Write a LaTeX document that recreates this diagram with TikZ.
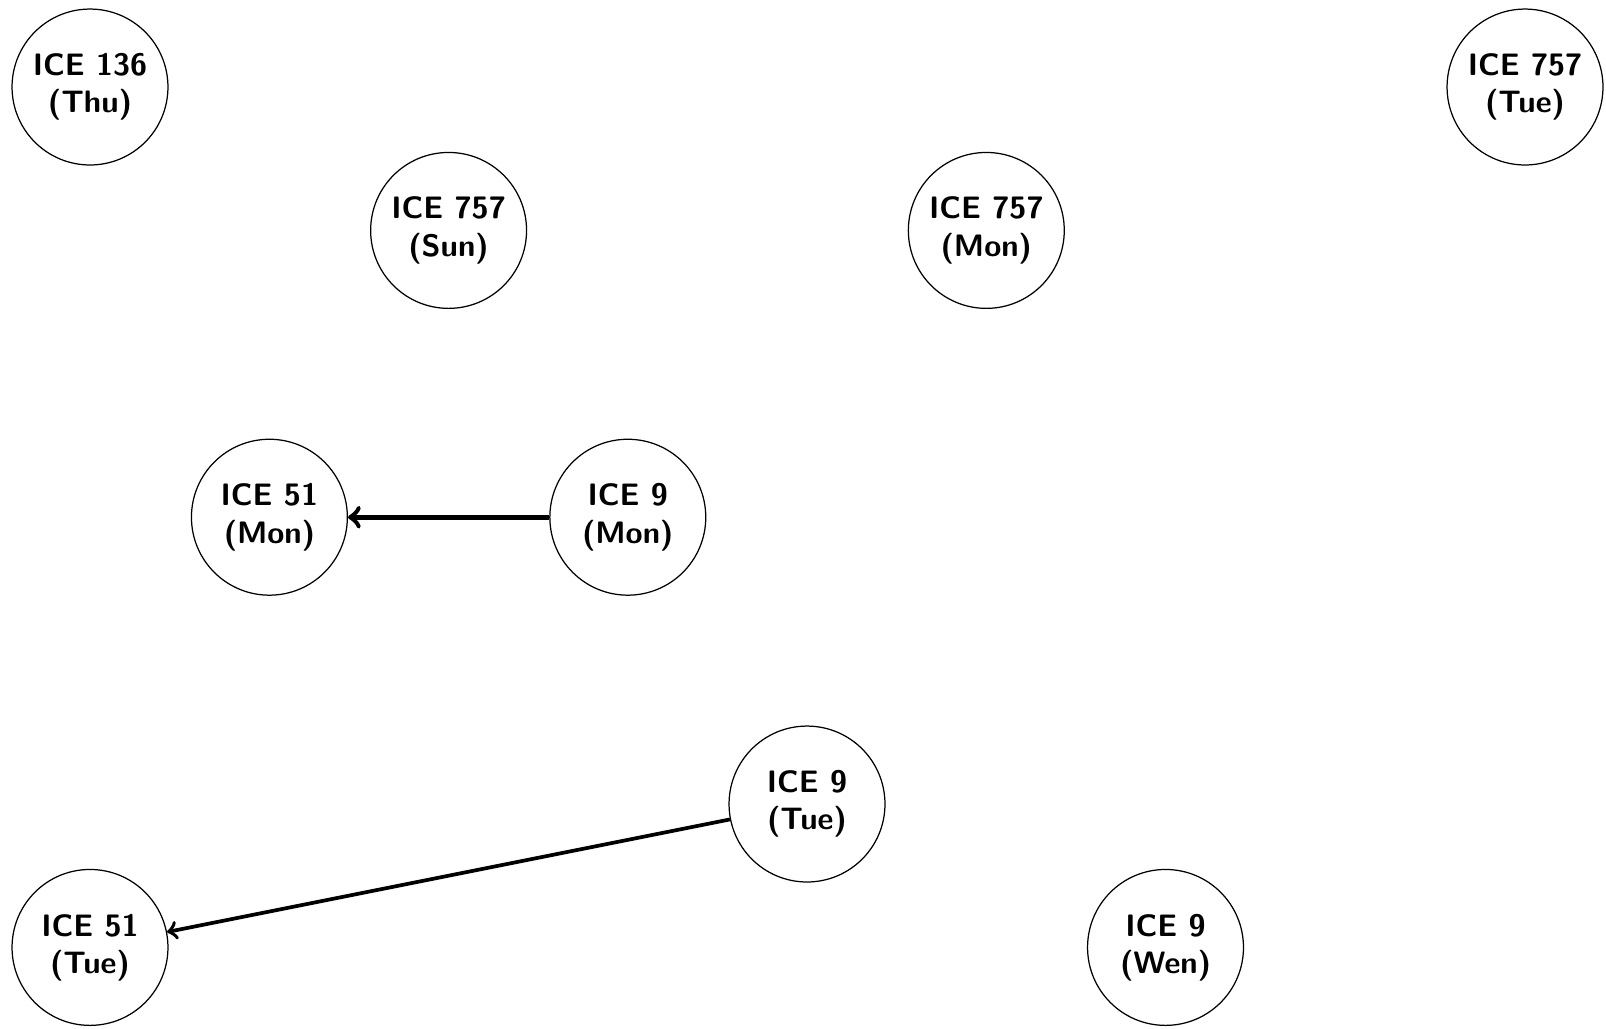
\documentclass[tikz,border=0pt]{standalone}
\begin{document}
\begin{tikzpicture}[x=0.3226pt, y=-0.3226pt,
  train/.style={draw, circle, minimum size=50.3pt, inner sep=0pt,
    align=center, font=\sffamily\bfseries},
  link/.style={->, line width=1.2pt}]
\useasboundingbox (0,0) rectangle (1606,1028);
\node[train] (t136thu) at (90,87)     {ICE 136\\(Thu)};
\node[train] (t757tue) at (1525,87)   {ICE 757\\(Tue)};
\node[train] (t757sun) at (448.6,230.4) {ICE 757\\(Sun)};
\node[train] (t757mon) at (986.3,230.4) {ICE 757\\(Mon)};
\node[train] (t51mon)  at (269.4,517.2) {ICE 51\\(Mon)};
\node[train] (t9mon)   at (627.8,517.2) {ICE 9\\(Mon)};
\node[train] (t9tue)   at (807,804)   {ICE 9\\(Tue)};
\node[train] (t51tue)  at (90,947.4)  {ICE 51\\(Tue)};
\node[train] (t9wen)   at (1165.5,947.4) {ICE 9\\(Wen)};
\draw[link, line width=1.6pt] (t9mon) -- (t51mon);
\draw[link] (t9tue) -- (t51tue);
\end{tikzpicture}
\end{document}
